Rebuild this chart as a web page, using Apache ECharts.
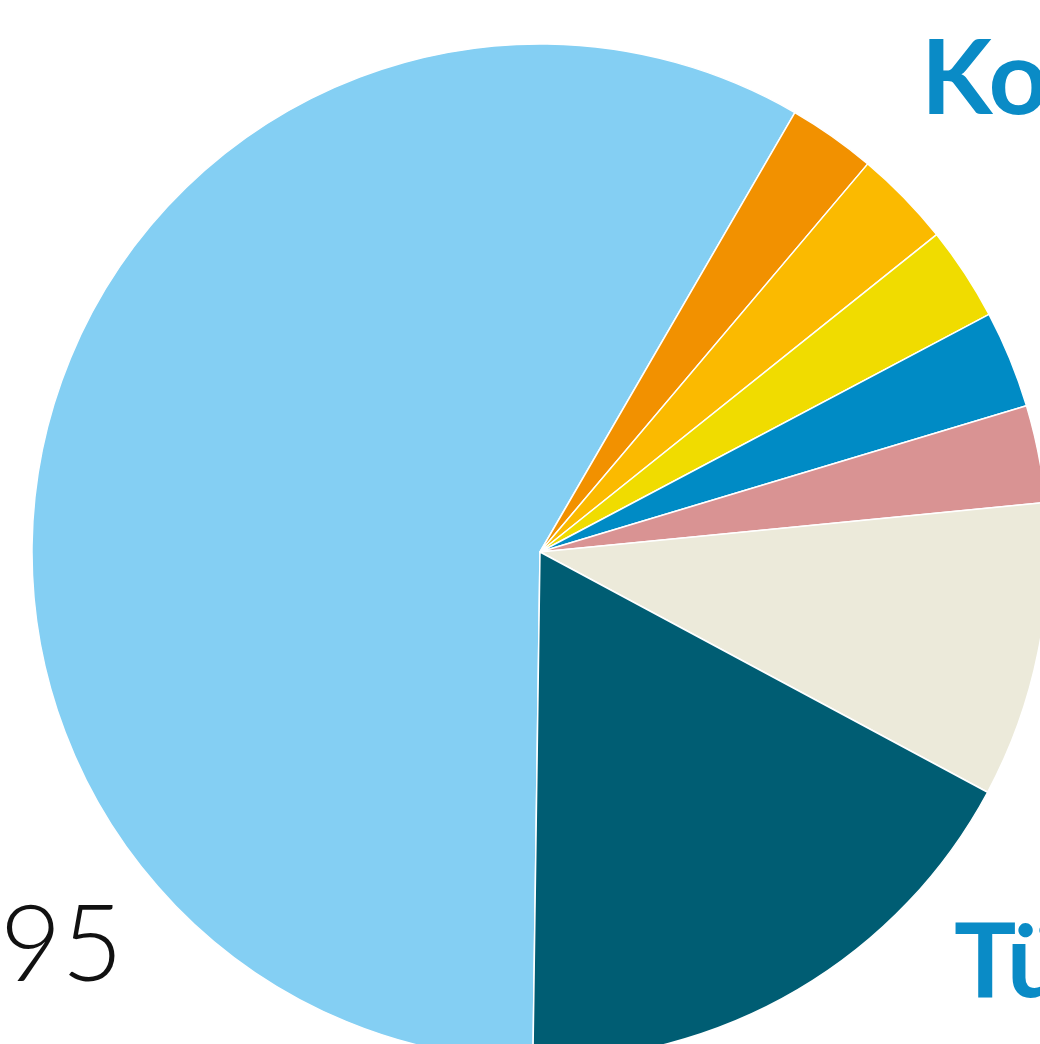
<!DOCTYPE html>
<html>
<head>
<meta charset="utf-8">
<script src="https://cdn.jsdelivr.net/npm/echarts@6/dist/echarts.min.js"></script>
<style>
    html,body{margin:0;padding:0;background:#fff;}
    #chart{width:1040px;height:1044px;}
</style>
</head>
<body>
<div id="chart"></div>
<script>
// 扇区数据（顺时针，从浅蓝开始）
var sliceNames = ['Rest', 'A', 'B', 'C', 'D', 'E', 'F', 'Türkei'];
var sliceValues = [58.2, 2.8, 3.1, 3.0, 3.1, 3.1, 9.4, 17.4];
var sliceColors = ['#84cff3', '#f29100', '#fbba00', '#f0dc00', '#008bc5', '#d99393', '#eceada', '#005d73'];

// 外部文字（被裁切的标签）
var labelTexts = ['Ko', 'Tü', '95'];

(function (echarts) {

    var chart = echarts.init(document.getElementById('chart'), null, {renderer: 'canvas'});

    var pieData = [];
    for (var i = 0; i < sliceValues.length; i++) {
        pieData.push({
            name: sliceNames[i],
            value: sliceValues[i],
            itemStyle: {color: sliceColors[i]}
        });
    }

    var option = {
        animation: false,
        backgroundColor: '#fff',
        series: [{
            type: 'pie',
            silent: true,
            center: [540, 552],
            radius: [0, 508],
            startAngle: 269.2,
            clockwise: true,
            avoidLabelOverlap: false,
            label: {show: false},
            labelLine: {show: false},
            itemStyle: {borderColor: '#fff', borderWidth: 1.5},
            data: pieData
        }],
        graphic: [
            {
                type: 'text', left: 921, top: 28,
                style: {text: labelTexts[0], font: 'bold 104px Lato', fill: '#0a8bc6'}
            },
            {
                type: 'text', left: 954, top: 911,
                style: {text: labelTexts[1], font: 'bold 104px Lato', fill: '#0a8bc6'}
            },
            {
                type: 'text', left: 0, top: 894,
                style: {text: labelTexts[2], font: '300 106px Lato', fill: '#111'}
            }
        ]
    };

    chart.setOption(option);

})(window.echarts);
</script>
</body>
</html>
